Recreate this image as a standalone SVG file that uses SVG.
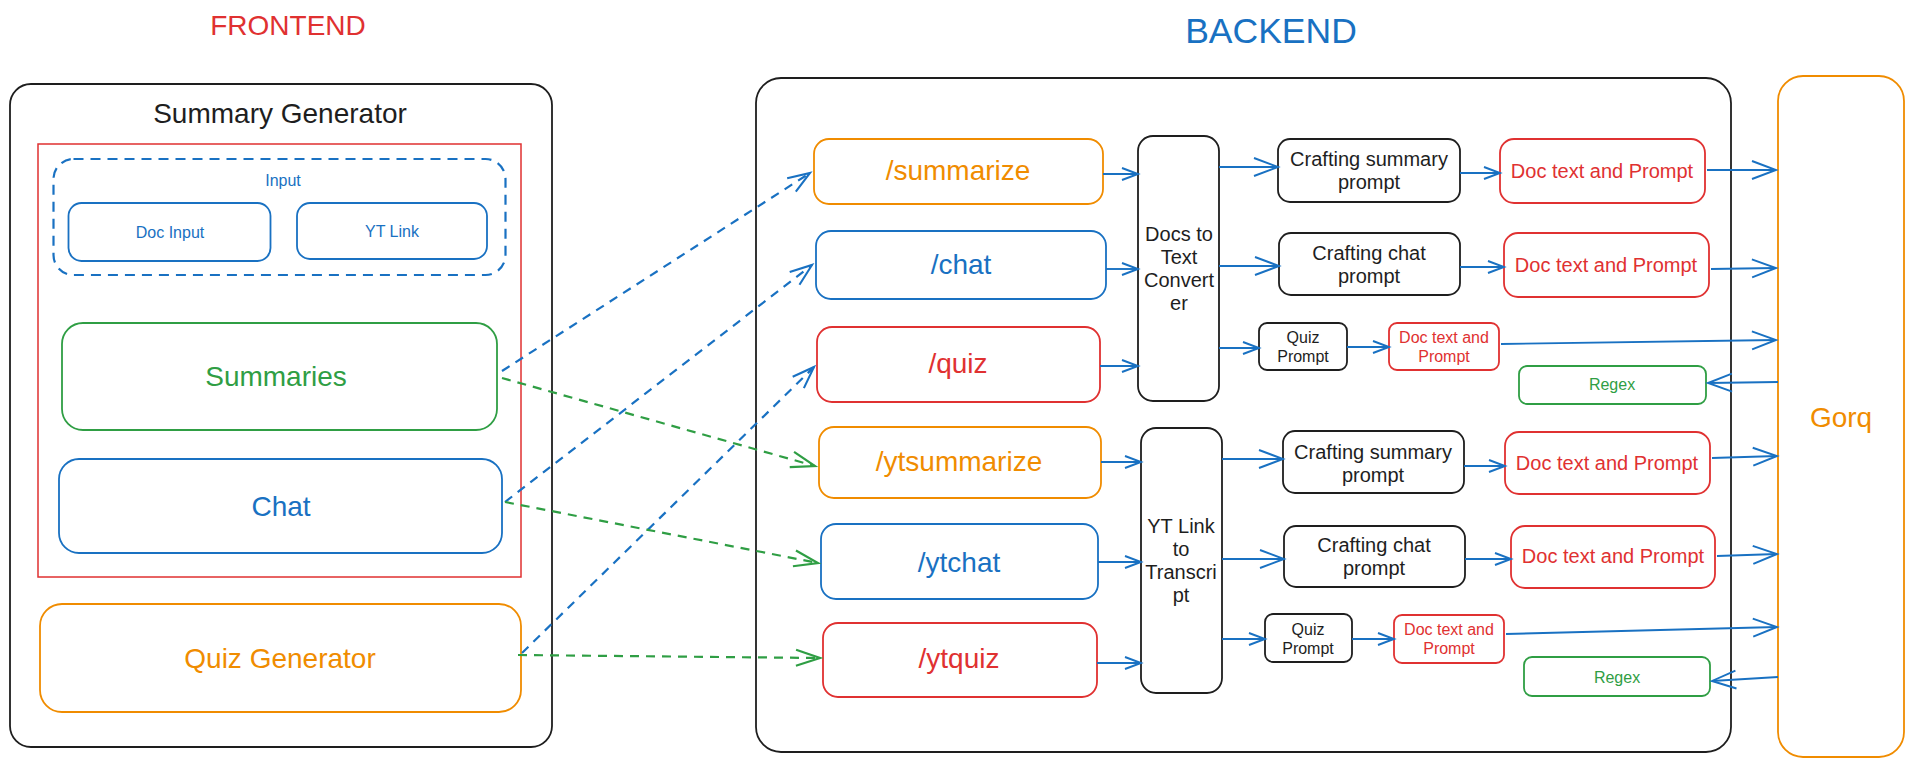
<svg xmlns="http://www.w3.org/2000/svg" width="1914" height="767" viewBox="0 0 1914 767">
<style>
text{font-family:"Liberation Sans",Arial,Helvetica,sans-serif;text-anchor:middle}
.k{fill:none;stroke:#1e1e1e;stroke-width:1.8}
.o{fill:none;stroke:#f08c00;stroke-width:1.8}
.b{fill:none;stroke:#1971c2;stroke-width:1.8}
.r{fill:none;stroke:#e03131;stroke-width:1.8}
.g{fill:none;stroke:#2f9e44;stroke-width:1.8}
.tk{fill:#1e1e1e}.to{fill:#f08c00}.tb{fill:#1971c2}.tr{fill:#e03131}.tg{fill:#2f9e44}
.f28{font-size:28px}.f20{font-size:20px}.f16{font-size:16px}
.a{fill:none;stroke:#1971c2;stroke-width:1.9}
.ds{fill:none;stroke:#1971c2;stroke-width:2.2;stroke-dasharray:9 7}
.dg{fill:none;stroke:#2f9e44;stroke-width:2.2;stroke-dasharray:9 7}
</style>
<defs>
<marker id="aS" markerUnits="userSpaceOnUse" markerWidth="20" markerHeight="16" refX="17" refY="7" orient="auto" overflow="visible"><path d="M1,1 L17,7 L1,13" fill="none" stroke="#1971c2" stroke-width="1.9"/></marker>
<marker id="aL" markerUnits="userSpaceOnUse" markerWidth="28" markerHeight="22" refX="25" refY="10" orient="auto" overflow="visible"><path d="M1,1 L25,10 L1,19" fill="none" stroke="#1971c2" stroke-width="1.9"/></marker>
<marker id="aB" markerUnits="userSpaceOnUse" markerWidth="26" markerHeight="20" refX="23" refY="9" orient="auto" overflow="visible"><path d="M1,1 L23,9 L1,17" fill="none" stroke="#1971c2" stroke-width="2.1"/></marker>
<marker id="aG" markerUnits="userSpaceOnUse" markerWidth="28" markerHeight="22" refX="25" refY="9" orient="auto" overflow="visible"><path d="M1,1 L25,9 L1,17" fill="none" stroke="#2f9e44" stroke-width="2.2"/></marker>
</defs>

<g id="titles">
<text x="288" y="35" class="tr" style="font-size:28px">FRONTEND</text>
<text x="1271" y="43" class="tb" style="font-size:35.5px">BACKEND</text>
</g>

<g id="frontend">
<rect x="10" y="84" width="542" height="663" rx="21" class="k"/>
<text x="280" y="123" class="tk f28">Summary Generator</text>
<rect x="38" y="144" width="483" height="433" class="r" style="stroke-width:1.5"/>
</g>
<g id="input">
<rect x="53.5" y="159" width="452" height="116" rx="20" class="b" style="stroke-width:2.2;stroke-dasharray:10 7"/>
<text x="283" y="186" class="tb f16">Input</text>
</g>
<g id="doc-input">
<rect x="68.5" y="203" width="202" height="58" rx="13" class="b"/>
<text x="170" y="238" class="tb f16">Doc Input</text>
</g>
<g id="yt-link">
<rect x="297" y="203" width="190" height="56" rx="13" class="b"/>
<text x="392" y="237" class="tb f16">YT Link</text>
</g>
<g id="summaries">
<rect x="62" y="323" width="435" height="107" rx="21" class="g"/>
<text x="276" y="386" class="tg f28">Summaries</text>
</g>
<g id="chat">
<rect x="59" y="459" width="443" height="94" rx="20" class="b"/>
<text x="281" y="516" class="tb f28">Chat</text>
</g>
<g id="quiz-generator">
<rect x="40" y="604" width="481" height="108" rx="22" class="o"/>
<text x="280" y="668" class="to f28">Quiz Generator</text>
</g>

<g id="backend">
<rect x="756" y="78" width="975" height="674" rx="25" class="k"/>
</g>
<g id="ep-summarize"><rect x="814" y="139" width="289" height="65" rx="15" class="o"/><text x="958" y="180" class="to f28">/summarize</text></g>
<g id="ep-chat"><rect x="816" y="231" width="290" height="68" rx="15" class="b"/><text x="961" y="274" class="tb f28">/chat</text></g>
<g id="ep-quiz"><rect x="817" y="327" width="283" height="75" rx="15" class="r"/><text x="958" y="373" class="tr f28">/quiz</text></g>
<g id="ep-ytsummarize"><rect x="819" y="427" width="282" height="71" rx="15" class="o"/><text x="959" y="471" class="to f28">/ytsummarize</text></g>
<g id="ep-ytchat"><rect x="821" y="524" width="277" height="75" rx="15" class="b"/><text x="959" y="572" class="tb f28">/ytchat</text></g>
<g id="ep-ytquiz"><rect x="823" y="623" width="274" height="74" rx="15" class="r"/><text x="959" y="668" class="tr f28">/ytquiz</text></g>

<g id="docs-converter"><rect x="1138" y="136" width="81" height="265" rx="15" class="k"/>
<text class="tk f20"><tspan x="1179" y="241">Docs to</tspan><tspan x="1179" y="264">Text</tspan><tspan x="1179" y="287">Convert</tspan><tspan x="1179" y="310">er</tspan></text></g>
<g id="yt-converter"><rect x="1141" y="428" width="81" height="265" rx="15" class="k"/>
<text class="tk f20"><tspan x="1181" y="533">YT Link</tspan><tspan x="1181" y="556">to</tspan><tspan x="1181" y="579">Transcri</tspan><tspan x="1181" y="602">pt</tspan></text></g>

<g id="craft-summary-1"><rect x="1278" y="139" width="182" height="63" rx="12" class="k"/>
<text class="tk f20"><tspan x="1369" y="166">Crafting summary</tspan><tspan x="1369" y="189">prompt</tspan></text></g>
<g id="craft-chat-1"><rect x="1279" y="233" width="181" height="62" rx="12" class="k"/>
<text class="tk f20"><tspan x="1369" y="260">Crafting chat</tspan><tspan x="1369" y="283">prompt</tspan></text></g>
<g id="quiz-prompt-1"><rect x="1259" y="323" width="88" height="47" rx="8" class="k"/>
<text class="tk f16"><tspan x="1303" y="343">Quiz</tspan><tspan x="1303" y="362">Prompt</tspan></text></g>
<g id="doctext-1"><rect x="1500" y="139" width="205" height="64" rx="14" class="r"/><text x="1602" y="178" class="tr f20">Doc text and Prompt</text></g>
<g id="doctext-2"><rect x="1504" y="233" width="205" height="64" rx="14" class="r"/><text x="1606" y="272" class="tr f20">Doc text and Prompt</text></g>
<g id="doctext-3"><rect x="1389" y="323" width="110" height="47" rx="8" class="r"/>
<text class="tr f16"><tspan x="1444" y="343">Doc text and</tspan><tspan x="1444" y="362">Prompt</tspan></text></g>
<g id="regex-1"><rect x="1519" y="366" width="187" height="38" rx="8" class="g"/><text x="1612" y="390" class="tg f16">Regex</text></g>

<g id="craft-summary-2"><rect x="1283" y="431" width="181" height="62" rx="12" class="k"/>
<text class="tk f20"><tspan x="1373" y="459">Crafting summary</tspan><tspan x="1373" y="482">prompt</tspan></text></g>
<g id="craft-chat-2"><rect x="1284" y="526" width="181" height="61" rx="12" class="k"/>
<text class="tk f20"><tspan x="1374" y="552">Crafting chat</tspan><tspan x="1374" y="575">prompt</tspan></text></g>
<g id="quiz-prompt-2"><rect x="1265" y="614" width="87" height="48" rx="8" class="k"/>
<text class="tk f16"><tspan x="1308" y="635">Quiz</tspan><tspan x="1308" y="654">Prompt</tspan></text></g>
<g id="doctext-4"><rect x="1505" y="432" width="205" height="62" rx="14" class="r"/><text x="1607" y="470" class="tr f20">Doc text and Prompt</text></g>
<g id="doctext-5"><rect x="1511" y="526" width="204" height="62" rx="14" class="r"/><text x="1613" y="563" class="tr f20">Doc text and Prompt</text></g>
<g id="doctext-6"><rect x="1394" y="615" width="110" height="48" rx="8" class="r"/>
<text class="tr f16"><tspan x="1449" y="635">Doc text and</tspan><tspan x="1449" y="654">Prompt</tspan></text></g>
<g id="regex-2"><rect x="1524" y="657" width="186" height="39" rx="8" class="g"/><text x="1617" y="683" class="tg f16">Regex</text></g>

<g id="gorq"><rect x="1778" y="76" width="126" height="681" rx="25" class="o"/><text x="1841" y="427" class="to f28">Gorq</text></g>

<g id="connectors">
<line x1="502" y1="371" x2="810" y2="173" class="ds" marker-end="url(#aB)"/>
<line x1="505" y1="502" x2="812" y2="265" class="ds" marker-end="url(#aB)"/>
<line x1="522" y1="653" x2="814" y2="367" class="ds" marker-end="url(#aB)"/>
<line x1="502" y1="378" x2="815" y2="466" class="dg" marker-end="url(#aG)"/>
<line x1="505" y1="502" x2="818" y2="563" class="dg" marker-end="url(#aG)"/>
<line x1="518" y1="655" x2="820" y2="658" class="dg" marker-end="url(#aG)"/>

<line x1="1103" y1="174" x2="1138" y2="174" class="a" marker-end="url(#aS)"/>
<line x1="1106" y1="269" x2="1138" y2="269" class="a" marker-end="url(#aS)"/>
<line x1="1100" y1="366" x2="1138" y2="366" class="a" marker-end="url(#aS)"/>
<line x1="1219" y1="167" x2="1278" y2="167" class="a" marker-end="url(#aL)"/>
<line x1="1219" y1="266" x2="1279" y2="266" class="a" marker-end="url(#aL)"/>
<line x1="1219" y1="348" x2="1259" y2="348" class="a" marker-end="url(#aS)"/>
<line x1="1460" y1="173" x2="1500" y2="173" class="a" marker-end="url(#aS)"/>
<line x1="1460" y1="267" x2="1504" y2="267" class="a" marker-end="url(#aS)"/>
<line x1="1347" y1="347" x2="1389" y2="347" class="a" marker-end="url(#aS)"/>
<line x1="1707" y1="170" x2="1776" y2="170" class="a" marker-end="url(#aL)"/>
<line x1="1711" y1="269" x2="1776" y2="268" class="a" marker-end="url(#aL)"/>
<line x1="1501" y1="344" x2="1776" y2="340" class="a" marker-end="url(#aL)"/>
<line x1="1778" y1="382" x2="1708" y2="383" class="a" marker-end="url(#aL)"/>

<line x1="1101" y1="462" x2="1141" y2="462" class="a" marker-end="url(#aS)"/>
<line x1="1098" y1="562" x2="1141" y2="562" class="a" marker-end="url(#aS)"/>
<line x1="1097" y1="663" x2="1141" y2="663" class="a" marker-end="url(#aS)"/>
<line x1="1222" y1="459" x2="1283" y2="459" class="a" marker-end="url(#aL)"/>
<line x1="1222" y1="559" x2="1284" y2="559" class="a" marker-end="url(#aL)"/>
<line x1="1222" y1="639" x2="1265" y2="639" class="a" marker-end="url(#aS)"/>
<line x1="1464" y1="466" x2="1505" y2="466" class="a" marker-end="url(#aS)"/>
<line x1="1465" y1="559" x2="1511" y2="559" class="a" marker-end="url(#aS)"/>
<line x1="1352" y1="639" x2="1394" y2="639" class="a" marker-end="url(#aS)"/>
<line x1="1712" y1="458" x2="1777" y2="456" class="a" marker-end="url(#aL)"/>
<line x1="1717" y1="556" x2="1777" y2="554" class="a" marker-end="url(#aL)"/>
<line x1="1506" y1="634" x2="1777" y2="627" class="a" marker-end="url(#aL)"/>
<line x1="1778" y1="677" x2="1712" y2="681" class="a" marker-end="url(#aL)"/>
</g>
</svg>
